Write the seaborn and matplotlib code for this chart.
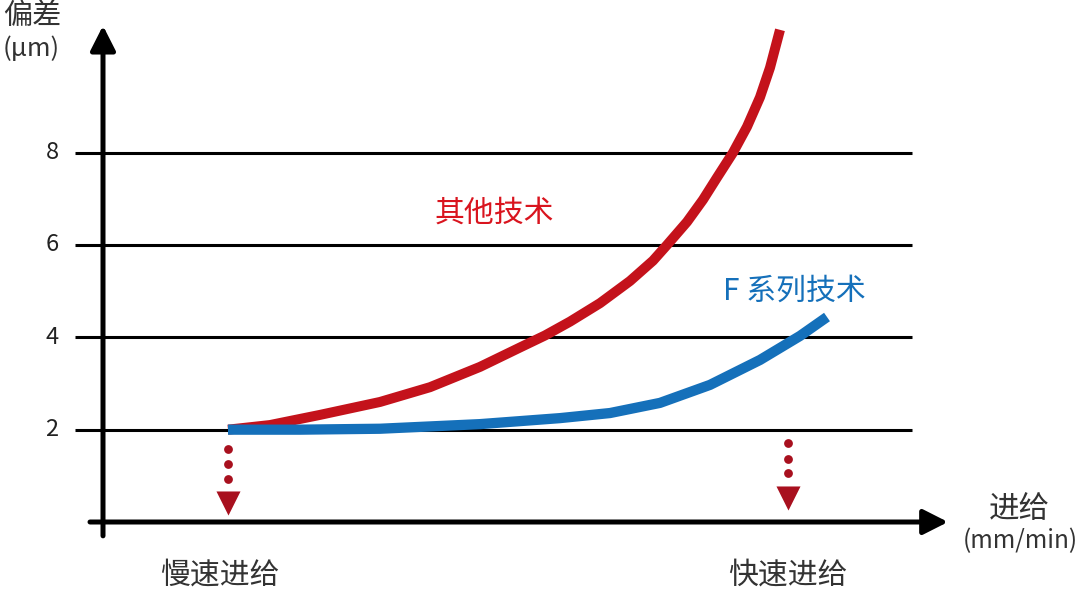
import matplotlib
matplotlib.use("Agg")
import matplotlib.pyplot as plt
import seaborn as sns

# feed (arbitrary units) vs deviation (um)
feed_other = [1.25, 1.67, 2.17, 2.77, 3.27, 3.77, 4.17, 4.42, 4.67, 4.97, 5.27, 5.50, 5.64,
              5.84, 6.00, 6.14, 6.30, 6.44, 6.57, 6.67, 6.77]
dev_other = [2.00, 2.10, 2.32, 2.60, 2.92, 3.36, 3.78, 4.04, 4.34, 4.74, 5.22, 5.66, 6.00,
             6.50, 6.98, 7.46, 8.00, 8.56, 9.20, 9.84, 10.66]

feed_f = [1.25, 1.97, 2.77, 3.77, 4.57, 5.07, 5.57, 6.07, 6.57, 6.97, 7.24]
dev_f = [2.00, 2.00, 2.02, 2.12, 2.25, 2.36, 2.58, 2.97, 3.51, 4.03, 4.44]

y_ticks = [2, 4, 6, 8]
tick_labels = ["2", "4", "6", "8"]

slow_feed = 1.25
fast_feed = 6.85

RED = "#c4121b"
RED_TXT = "#d9141e"
DARK_RED = "#a8101e"
BLUE = "#1570ba"
GREY = "#333333"

sns.set_theme(style="white")
plt.rcParams["font.family"] = ["Noto Sans CJK SC", "DejaVu Sans"]

fig = plt.figure(figsize=(10.8, 5.95), dpi=100)
ax = fig.add_axes([0, 0, 1, 1])
ax.set_xlim(-1.03, 9.77)
ax.set_ylim(-1.581, 11.306)
ax.axis("off")

# grid lines
for yv in y_ticks:
    ax.plot([-0.28, 8.09], [yv, yv], color="black", lw=2.2, solid_capstyle="butt", zorder=1)

# axes with arrow heads
arrow = dict(arrowstyle="-|>,head_length=0.75,head_width=0.38", lw=3.6, color="black",
             mutation_scale=20, shrinkA=0, shrinkB=0)
ax.annotate("", xy=(0, 10.75), xytext=(0, -0.3), arrowprops=arrow, zorder=2)
ax.annotate("", xy=(8.45, 0), xytext=(-0.13, 0), arrowprops=arrow, zorder=2)

# curves
sns.lineplot(x=feed_other, y=dev_other, color=RED, linewidth=7.2, ax=ax,
             solid_capstyle="butt", solid_joinstyle="round", zorder=3)
sns.lineplot(x=feed_f, y=dev_f, color=BLUE, linewidth=7.4, ax=ax,
             solid_capstyle="butt", solid_joinstyle="round", zorder=4)

# dotted down arrows
ax.scatter([slow_feed] * 3, [1.58, 1.26, 0.93], s=40, color=DARK_RED, zorder=3, linewidths=0)
ax.scatter([slow_feed], [0.42], marker="v", s=300, color=DARK_RED, zorder=3, linewidths=0)
ax.scatter([fast_feed] * 3, [1.71, 1.37, 1.06], s=40, color=DARK_RED, zorder=3, linewidths=0)
ax.scatter([fast_feed], [0.53], marker="v", s=300, color=DARK_RED, zorder=3, linewidths=0)

# tick labels
for yv, lab in zip(y_ticks, tick_labels):
    ax.text(-0.51, yv, lab, ha="center", va="center", fontsize=17, color="#222222")

# axis titles
ax.text(-1.0, 10.95, "偏差", ha="left", va="center", fontsize=21, color=GREY, fontweight="medium")
ax.text(-1.0, 10.25, "(μm)", ha="left", va="center", fontsize=18.5, color=GREY)
ax.text(9.16, 0.26, "进给", ha="center", va="center", fontsize=22, color=GREY, fontweight="medium")
ax.text(9.17, -0.41, "(mm/min)", ha="center", va="center", fontsize=17.5, color=GREY)

# series labels
ax.text(3.91, 6.7, "其他技术", ha="center", va="center", fontsize=21.5, color=RED_TXT,
        fontweight="medium")
ax.text(6.91, 5.0, "F 系列技术", ha="center", va="center", fontsize=21.5, color=BLUE,
        fontweight="medium")

# feed labels
ax.text(slow_feed - 0.08, -1.14, "慢速进给", ha="center", va="center", fontsize=21.5, color=GREY,
        fontweight="medium")
ax.text(6.85, -1.14, "快速进给", ha="center", va="center", fontsize=21.5, color=GREY,
        fontweight="medium")

fig.savefig("out.png", dpi=100)
